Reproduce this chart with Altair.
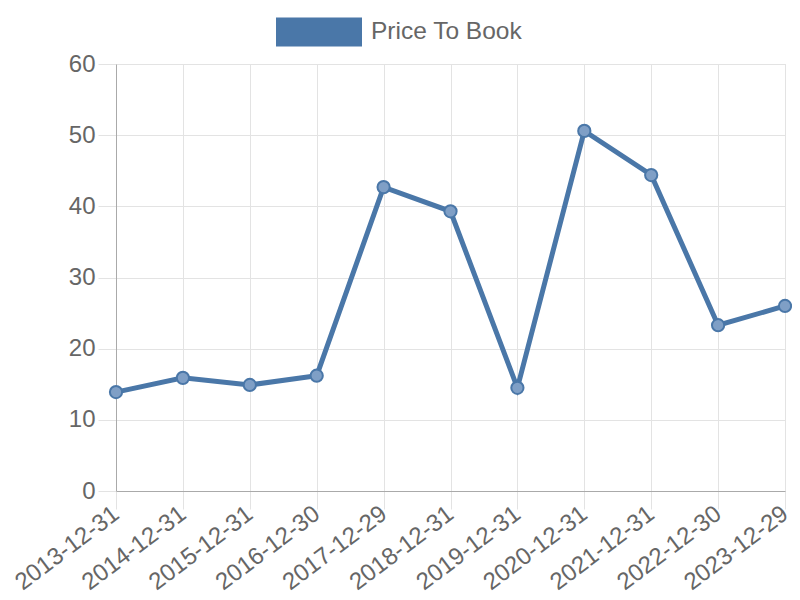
import altair as alt
import pandas as pd

dates = ["2013-12-31", "2014-12-31", "2015-12-31", "2016-12-30", "2017-12-29",
         "2018-12-31", "2019-12-31", "2020-12-31", "2021-12-31", "2022-12-30", "2023-12-29"]
price_to_book = [13.9, 15.9, 14.9, 16.2, 42.7, 39.3, 14.5, 50.6, 44.4, 23.3, 26.0]
series_name = "Price To Book"
y_ticks = [0, 10, 20, 30, 40, 50, 60]

df = pd.DataFrame({"date": dates, "value": price_to_book, "series": series_name})

BLUE = "#4a77a8"
FONT = "Liberation Sans"

x = alt.X("date:N", sort=dates, title=None,
          scale=alt.Scale(type="point", padding=0),
          axis=alt.Axis(labelAngle=-37, labelAlign="right", labelBaseline="middle",
                        labelFontSize=24, labelColor="#666666", labelFont=FONT,
                        labelPadding=2, tickSize=18, tickColor="#e3e3e3",
                        domainColor="#aaaaaa", grid=True, gridColor="#e3e3e3",
                        labelOverlap=False))
y = alt.Y("value:Q", title=None,
          scale=alt.Scale(domain=[0, 60], nice=False),
          axis=alt.Axis(values=y_ticks, labelFontSize=24, labelColor="#666666", labelFont=FONT,
                        labelPadding=3, tickSize=18, tickColor="#e3e3e3",
                        domainColor="#aaaaaa", grid=True, gridColor="#e3e3e3"))

line = alt.Chart(df).mark_line(strokeWidth=5).encode(
    x=x, y=y,
    color=alt.Color("series:N", scale=alt.Scale(range=[BLUE]),
                    legend=alt.Legend(title=None, orient="none", legendX=160, legendY=-75,
                                      symbolType="M-1,-0.337H1V0.337H-1Z", symbolSize=7396,
                                      symbolFillColor=BLUE, symbolStrokeWidth=0,
                                      labelFontSize=24.5, labelColor="#666666", labelFont=FONT,
                                      labelOffset=9))
)
points = alt.Chart(df).mark_point(filled=True, size=150, fill="#7f9fc6", stroke=BLUE,
                                   strokeWidth=2, opacity=1).encode(x=x, y=y)

chart = alt.layer(line, points).properties(
    width=669, height=427,
    autosize=alt.AutoSizeParams(type="none"),
    padding={"left": 108, "top": 56, "right": 7, "bottom": 108},
).configure_view(stroke=None).configure(font=FONT)

chart.save("out.html", embed_options={"renderer": "svg", "actions": False})
